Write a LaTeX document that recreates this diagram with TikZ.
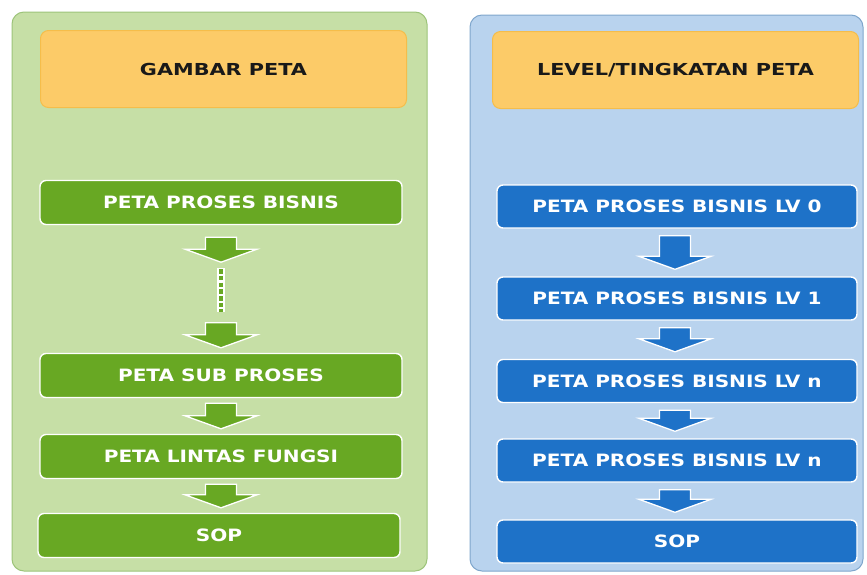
\documentclass[tikz,border=0pt]{standalone}
\usepackage{fontspec}
\newfontfamily\boxfont{DejaVu Sans}[FakeStretch=1.18]
\newfontfamily\headfont{DejaVu Sans}[FakeStretch=1.26]
\usetikzlibrary{calc}
\definecolor{gpanel}{HTML}{C6DFA6}
\definecolor{gpanelb}{HTML}{9DC47A}
\definecolor{gbox}{HTML}{68A823}
\definecolor{bpanel}{HTML}{B9D3EE}
\definecolor{bpanelb}{HTML}{7FA6CC}
\definecolor{bbox}{HTML}{1E72C8}
\definecolor{hdr}{HTML}{FCCB68}
\definecolor{hdrb}{HTML}{F5BD4A}
\tikzset{
  x=1pt,y=1pt,
  panel/.style={rounded corners=12pt, line width=1pt},
  header/.style={draw=hdrb, fill=hdr, rounded corners=8pt, line width=1pt,
     minimum width=366pt, minimum height=77pt, inner sep=0pt,
     font=\headfont\bfseries\fontsize{16.5}{18}\selectfont, text=black!90},
  stepbox/.style={draw=white, line width=1.4pt, rounded corners=6pt,
     minimum width=362pt, minimum height=44pt, inner sep=0pt,
     font=\boxfont\bfseries\fontsize{17}{19}\selectfont, text=white},
  gstep/.style={stepbox, fill=gbox},
  bstep/.style={stepbox, fill=bbox, minimum width=360pt, minimum height=43pt},
  barrow/.style={draw=white, line width=1.3pt, line join=miter},
}
% block arrow between two named points: #1 top point, #2 bottom point, #3 fill colour
\newcommand\blockarrow[3]{%
  \draw[barrow, fill=#3] let \p1=(#1), \p2=(#2) in
    (\x1-15.5,\y1) -- (\x1+15.5,\y1) -- (\x1+15.5,\y2+13) -- (\x1+36,\y2+13)
    -- (\x1,\y2) -- (\x1-36,\y2+13) -- (\x1-15.5,\y2+13) -- cycle;
}
\begin{document}
\begin{tikzpicture}
\useasboundingbox (0,0) rectangle (867,-574);
% ---------- left panel ----------
\draw[panel, fill=gpanel, draw=gpanelb] (12,-12) rectangle (427,-571);
\node[header] (gh) at (223.5,-69) {GAMBAR PETA};
\node[gstep] (g1) at (221,-202.5) {PETA PROSES BISNIS};
\node[gstep] (g2) at (221,-375.5) {PETA SUB PROSES};
\node[gstep] (g3) at (221,-456.5) {PETA LINTAS FUNGSI};
\node[gstep] (g4) at (219,-535.5) {SOP};
\coordinate (ga1t) at ($(g1.south)+(0,-12)$);
\coordinate (ga1b) at ($(g1.south)+(0,-37)$);
\coordinate (gdt) at ($(g1.south)+(0,-43)$);
\coordinate (gdb) at ($(g2.north)+(0,41)$);
\coordinate (ga2t) at ($(g2.north)+(0,30)$);
\coordinate (ga2b) at ($(g2.north)+(0,5)$);
\blockarrow{ga1t}{ga1b}{gbox}
\draw[white, line width=8pt] (gdt) -- (gdb);
\draw[gbox, line width=4.5pt, dash pattern=on 4.5pt off 2.2pt, dash phase=-1pt] (gdt) -- (gdb);
\blockarrow{ga2t}{ga2b}{gbox}
\coordinate (g23t) at ($(g2.south)+(0,-5)$);
\coordinate (g23b) at ($(g3.north)+(0,5)$);
\blockarrow{g23t}{g23b}{gbox}
\coordinate (g34t) at ($(g3.south)+(0,-5)$);
\coordinate (g34b) at ($(g4.north)+(0,5)$);
\blockarrow{g34t}{g34b}{gbox}
% ---------- right panel ----------
\draw[panel, fill=bpanel, draw=bpanelb] (470,-15) rectangle (863,-571);
\node[header] (bh) at (675.5,-70) {LEVEL/TINGKATAN PETA};
\node[bstep] (b1) at (677,-206.5) {PETA PROSES BISNIS LV 0};
\node[bstep] (b2) at (677,-298.5) {PETA PROSES BISNIS LV 1};
\node[bstep] (b3) at (677,-381) {PETA PROSES BISNIS LV n};
\node[bstep] (b4) at (677,-460.5) {PETA PROSES BISNIS LV n};
\node[bstep] (b5) at (677,-541.5) {SOP};
\foreach \a/\b in {b1/b2,b2/b3,b3/b4,b4/b5}{
  \coordinate (\a t) at ($(\a.south)+(-2,-7)$);
  \coordinate (\a b) at ($(\b.north)+(-2,7)$);
  \blockarrow{\a t}{\a b}{bbox}
}
\end{tikzpicture}
\end{document}
